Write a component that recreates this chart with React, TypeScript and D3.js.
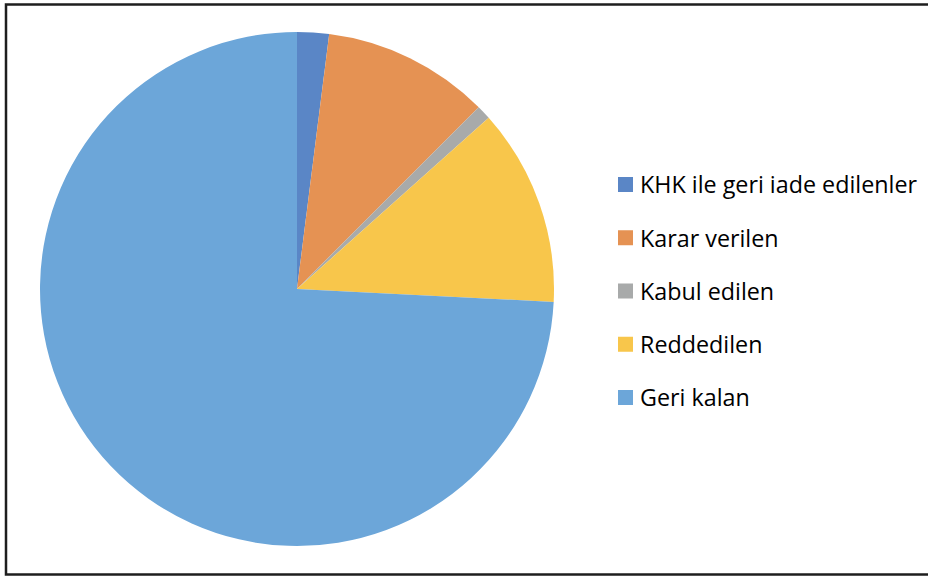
import React from "react";
import * as d3 from "d3";

const categories = ["KHK ile geri iade edilenler", "Karar verilen", "Kabul edilen", "Reddedilen", "Geri kalan"];
const values = [2.0, 10.5, 0.9, 12.4, 74.2];
const colors = ["#5A86C6", "#E59253", "#A8AAAA", "#F8C64B", "#6CA6D9"];

export default function App() {
  const W = 928, H = 577;
  const cx = 297, cy = 289, r = 257;
  const data = categories.map((c, i) => ({ c, v: values[i], col: colors[i] }));
  const pie = d3.pie<any>().value((d) => d.v).sort(null);
  const arc = d3.arc<any>().innerRadius(0).outerRadius(r);
  const arcs = pie(data);
  const legendY = d3.scalePoint<string>().domain(categories).range([185, 398]);
  return (
    <svg width={W} height={H} style={{ position: "absolute", left: 0, top: 0 }} fontFamily="'Open Sans', sans-serif">
      <rect x={0} y={0} width={W} height={H} fill="#fff" />
      <rect x={6} y={4.5} width={960} height={570} fill="none" stroke="#1e1e1e" strokeWidth={2.5} />
      <g transform={`translate(${cx},${cy})`}>
        {arcs.map((a, i) => (
          <path key={i} d={arc(a) || ""} fill={a.data.col} />
        ))}
      </g>
      {categories.map((c, i) => (
        <g key={c} transform={`translate(618,${legendY(c)})`}>
          <rect x={0} y={-8} width={15} height={15} fill={colors[i]} />
          <text x={22} y={0} dy="0.36em" fontSize={23.3} fill="#000">{c}</text>
        </g>
      ))}
    </svg>
  );
}
